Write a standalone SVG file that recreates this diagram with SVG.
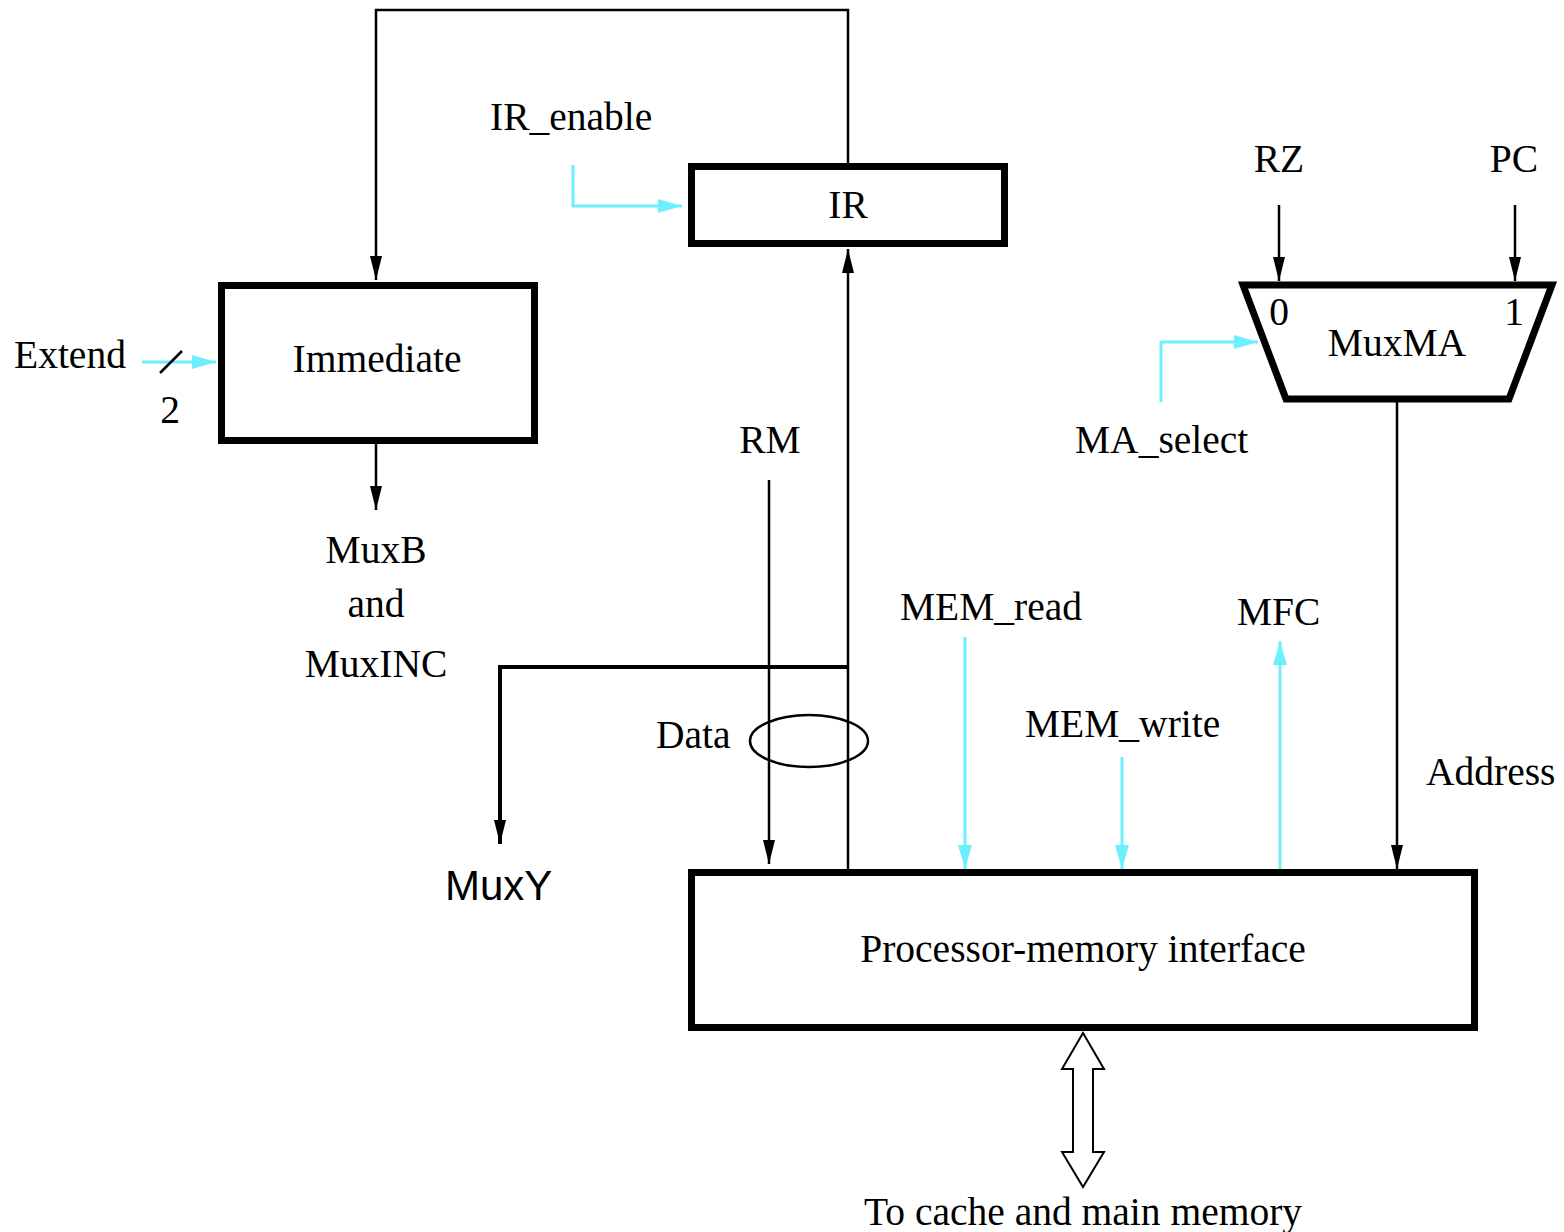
<svg xmlns="http://www.w3.org/2000/svg" width="1564" height="1232" viewBox="0 0 1564 1232">
<style>
.t{font-family:"Liberation Serif","Times New Roman",serif;font-size:39.5px;fill:#000}
.c{text-anchor:middle}
.box{fill:#fff;stroke:#000;stroke-width:7}
.w{fill:none;stroke:#000;stroke-width:2.5}
.wt{fill:none;stroke:#000;stroke-width:4}
.cy{fill:none;stroke:#6eefff;stroke-width:3}
</style>
<defs>
<marker id="ab" markerUnits="userSpaceOnUse" markerWidth="24" markerHeight="14" refX="24" refY="7" orient="auto"><path d="M0,1 L24,7 L0,13 z" fill="#000"/></marker>
<marker id="ac" markerUnits="userSpaceOnUse" markerWidth="24" markerHeight="16" refX="24" refY="8" orient="auto"><path d="M0,1 L24,8 L0,15 z" fill="#6eefff"/></marker>
</defs>
<rect width="1564" height="1232" fill="#fff"/>
<g id="connectors">
<polyline class="w" points="848,165 848,10 376,10 376,280" marker-end="url(#ab)"/>
<line class="w" x1="376" y1="444" x2="376" y2="510" marker-end="url(#ab)"/>
<line class="cy" x1="142" y1="362" x2="216" y2="362" marker-end="url(#ac)"/>
<line x1="160" y1="373" x2="182" y2="351" stroke="#000" stroke-width="2.5"/>
<polyline class="cy" points="573,165 573,206 682,206" marker-end="url(#ac)"/>
<line class="w" x1="848" y1="870" x2="848" y2="249" marker-end="url(#ab)"/>
<line class="w" x1="769" y1="480" x2="769" y2="864" marker-end="url(#ab)"/>
<polyline class="wt" points="848,667 500,667 500,844" marker-end="url(#ab)"/>
<ellipse cx="809" cy="741" rx="59" ry="26" fill="none" stroke="#000" stroke-width="2.5"/>
<line class="cy" x1="965" y1="637" x2="965" y2="869" marker-end="url(#ac)"/>
<line class="cy" x1="1122" y1="757" x2="1122" y2="869" marker-end="url(#ac)"/>
<line class="cy" x1="1280" y1="869" x2="1280" y2="641" marker-end="url(#ac)"/>
<line class="w" x1="1397" y1="400" x2="1397" y2="869" marker-end="url(#ab)"/>
<line class="w" x1="1279" y1="205" x2="1279" y2="281" marker-end="url(#ab)"/>
<line class="w" x1="1515" y1="205" x2="1515" y2="281" marker-end="url(#ab)"/>
<polyline class="cy" points="1161,402 1161,342 1258,342" marker-end="url(#ac)"/>
<polygon points="1083,1033 1104,1069 1093,1069 1093,1152 1104,1152 1083,1187 1062,1152 1073,1152 1073,1069 1062,1069" fill="#fff" stroke="#000" stroke-width="2"/>
</g>
<g id="immediate">
<rect class="box" x="221.5" y="285.5" width="313" height="155"/>
<text class="t c" x="377" y="372">Immediate</text>
</g>
<g id="ir">
<rect class="box" x="691.5" y="166.5" width="313" height="77"/>
<text class="t c" x="848" y="218">IR</text>
</g>
<g id="muxma">
<polygon class="box" points="1243,285 1552,285 1509,399 1286,399"/>
<text class="t c" x="1397" y="356">MuxMA</text>
<text class="t c" x="1279" y="325">0</text>
<text class="t c" x="1514" y="325">1</text>
</g>
<g id="pmi">
<rect class="box" x="691.5" y="872.5" width="783" height="155"/>
<text class="t c" x="1083" y="962">Processor-memory interface</text>
</g>
<g id="labels">
<text class="t" x="14" y="368">Extend</text>
<text class="t c" x="170" y="423">2</text>
<text class="t" x="490" y="130">IR_enable</text>
<text class="t c" x="376" y="563">MuxB</text>
<text class="t c" x="376" y="617">and</text>
<text class="t c" x="376" y="677">MuxINC</text>
<text class="t c" x="770" y="453">RM</text>
<text class="t" x="656" y="748">Data</text>
<text x="445" y="900" style="font-family:'Liberation Sans',Arial,sans-serif;font-size:42px">MuxY</text>
<text class="t" x="900" y="620">MEM_read</text>
<text class="t" x="1025" y="737">MEM_write</text>
<text class="t" x="1237" y="625">MFC</text>
<text class="t" x="1426" y="785">Address</text>
<text class="t c" x="1279" y="172">RZ</text>
<text class="t c" x="1514" y="172">PC</text>
<text class="t" x="1075" y="453">MA_select</text>
<text class="t c" x="1083" y="1225">To cache and main memory</text>
</g>
</svg>
